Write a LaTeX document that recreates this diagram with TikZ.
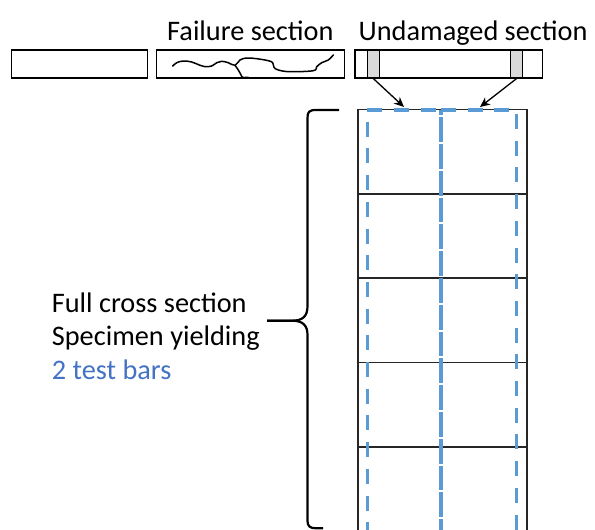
\documentclass[tikz,border=0pt]{standalone}
\usepackage{fontspec}
\setmainfont{Carlito}
\usetikzlibrary{arrows.meta}
\definecolor{barblue}{HTML}{5B9BD5}
\definecolor{txtblue}{HTML}{4472C4}
\definecolor{bandgray}{HTML}{D9D9D9}
\begin{document}
\begin{tikzpicture}[x=1pt,y=-1pt,
  lbl/.style={inner sep=0pt,anchor=base west,font=\fontsize{28.3}{33.5}\selectfont},
  piece/.style={draw=black,line width=1.3pt,inner sep=0pt,minimum height=28pt},
  band/.style={draw=black,fill=bandgray,line width=1.3pt,inner sep=0pt,minimum height=28pt,minimum width=11.7pt},
  cell/.style={draw=black!85,line width=1.6pt,inner sep=0pt,outer sep=0pt,minimum width=169pt,minimum height=84.4pt},
  testbar/.style={draw=barblue,line width=3.3pt,dash pattern=on 15pt off 11.7pt},
  pointer/.style={draw=black,line width=1.3pt,-{Stealth[length=10pt,width=9pt]}},
  brace/.style={draw=black,line width=2.2pt}
]
\clip (0,0) rectangle (595,530);
\fill[white] (0,0) rectangle (595,530);

% titles
\node[lbl] (tfail) at (167,40) {Failure section};
\node[lbl] (tund) at (358.5,40) {Undamaged section};

% specimen pieces
\node[piece,minimum width=136pt] (r1) at (79.5,64) {};
\node[piece,minimum width=187.6pt] (r2) at (250.5,64) {};
\node[piece,minimum width=187.5pt] (r3) at (448.8,64) {};
\node[band] (g1) at (373.4,64) {};
\node[band] (g2) at (516.5,64) {};

% crack
\draw[line width=1.5pt,line join=round,line cap=round] plot[smooth,tension=0.6] coordinates {
 (172.7,66) (176.7,62.7) (183.3,61) (191.7,62) (200,65.3) (205,66.7) (211.7,66) (216.7,62.7)
 (221.7,61.3) (228.3,62.7) (235,65.3) (240,60) (246.7,58) (256.7,58.7) (268.3,60.7)
 (272.7,62.7) (274,67.3) (278.3,70) (290,71.7) (313.3,70.7) (316.7,66.7) (321.7,62.7)
 (328.3,60) (333.3,55)};
\draw[line width=1.5pt,line join=round,line cap=round] plot[smooth,tension=0.6] coordinates {
 (235,65.3) (238.3,70) (240.7,74.3) (242.7,77.3) (248.3,77.3)};

% column cells
\node[cell,anchor=north west] (c1) at (357.7,109.3) {};
\node[cell,anchor=north west] (c2) at (c1.south west) {};
\node[cell,anchor=north west] (c3) at (c2.south west) {};
\node[cell,anchor=north west] (c4) at (c3.south west) {};
\node[cell,anchor=north west] (c5) at (c4.south west) {};

% test bars (dashed)
\coordinate (bl) at (367.3,110);
\coordinate (bm) at (441,110);
\coordinate (br) at (516.7,110);
\coordinate (blb) at (367.3,545);
\coordinate (bmb) at (441,545);
\coordinate (brb) at (516.7,545);
\draw[testbar,dash phase=0pt] (bl) -- (bm);
\draw[testbar,dash phase=0pt] (bm) -- (br);
\draw[testbar,dash phase=15pt] (bl) -- (blb);
\draw[testbar,dash phase=22.7pt] (br) -- (brb);
\draw[testbar,dash pattern=on 24.8pt off 2pt,dash phase=19.6pt] (bm) -- (bmb);

% arrows
\coordinate (a1) at (404,107);
\coordinate (a2) at (480,107);
\draw[pointer] (g1.south) -- (a1);
\draw[pointer] (g2.south) -- (a2);

% brace
\coordinate (bt) at (339,110);
\coordinate (tip) at (267,320.7);
\coordinate (bb) at (323,528.3);
\draw[brace,line join=round] (bt) -- (316,110) .. controls (309,110) and (307.5,112) .. (307.5,118)
  -- (307.5,306) .. controls (307.5,316) and (303,320.7) .. (292,320.7) -- (tip);
\draw[brace,line join=round] (tip) -- (292,320.7) .. controls (303,320.7) and (307.5,325.5) .. (307.5,335)
  -- (307.5,521) .. controls (307.5,526) and (310,528.3) .. (316,528.3) -- (bb);

% left labels
\node[lbl] (l1) at (51.7,312.3) {Full cross section};
\node[lbl] (l2) at (51.7,345.7) {Specimen yielding};
\node[lbl,text=txtblue] (l3) at (51.7,379.3) {2 test bars};
\end{tikzpicture}
\end{document}
